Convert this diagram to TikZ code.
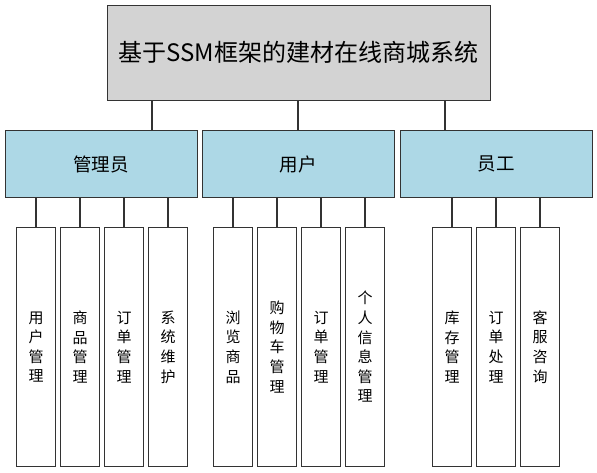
\documentclass[tikz,border=0pt]{standalone}
\usepackage{fontspec}
\setmainfont{Noto Sans CJK SC}
\begin{document}
\begin{tikzpicture}[x=1pt,y=-1pt,
  box/.style={draw=black!80,line width=1pt,inner sep=0pt,anchor=center},
  topbox/.style={box,fill={rgb,255:red,211;green,211;blue,211},minimum width=383pt,minimum height=95.5pt,font=\fontsize{24}{28}\selectfont},
  midbox/.style={box,fill={rgb,255:red,173;green,216;blue,230},minimum width=192pt,minimum height=67pt,font=\fontsize{18.5}{22}\selectfont},
  leaf/.style={box,fill=white,minimum width=38.6pt,minimum height=239.4pt,align=center,font=\fontsize{15}{19.6}\selectfont},
  link/.style={draw=black!80,line width=1.5pt}]
\useasboundingbox (0,0) rectangle (597,473);
\node[topbox] (top) at (298.5,52.8) {基于SSM框架的建材在线商城系统};
\node[midbox] (m1) at (101,164) {管理员};
\node[midbox] (m2) at (298.4,164) {用户};
\node[midbox] (m3) at (496,164) {员工};
\coordinate (j1) at (152,0);
\coordinate (j2) at (298,0);
\coordinate (j3) at (445,0);
\draw[link] (top.south -| j1) -- (m1.north -| j1);
\draw[link] (top.south -| j2) -- (m2.north -| j2);
\draw[link] (top.south -| j3) -- (m3.north -| j3);
% leaves
\node[leaf] (a1) at (36,347) {用\\户\\管\\理};
\node[leaf] (a2) at (80,347) {商\\品\\管\\理};
\node[leaf] (a3) at (124,347) {订\\单\\管\\理};
\node[leaf] (a4) at (168,347) {系\\统\\维\\护};
\node[leaf] (b1) at (233,347) {浏\\览\\商\\品};
\node[leaf] (b2) at (277,347) {购\\物\\车\\管\\理};
\node[leaf] (b3) at (321,347) {订\\单\\管\\理};
\node[leaf] (b4) at (365,347) {个\\人\\信\\息\\管\\理};
\node[leaf] (c1) at (452,347) {库\\存\\管\\理};
\node[leaf] (c2) at (496,347) {订\\单\\处\\理};
\node[leaf] (c3) at (540,347) {客\\服\\咨\\询};
\foreach \l in {a1,a2,a3,a4}{\draw[link] (\l.north) -- (\l.north |- m1.south);}
\foreach \l in {b1,b2,b3,b4}{\draw[link] (\l.north) -- (\l.north |- m2.south);}
\foreach \l in {c1,c2,c3}{\draw[link] (\l.north) -- (\l.north |- m3.south);}
\end{tikzpicture}
\end{document}
